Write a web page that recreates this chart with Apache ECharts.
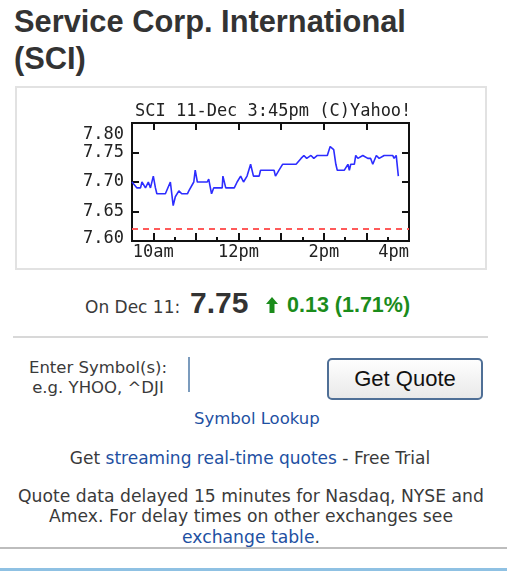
<!DOCTYPE html>
<html>
<head>
<meta charset="utf-8">
<title>Service Corp. International (SCI)</title>
<script src="https://cdn.jsdelivr.net/npm/echarts@6/dist/echarts.min.js"></script>
<style>
body { margin:0; width:507px; height:571px; background:#fff; position:relative; overflow:hidden;
       font-family:"DejaVu Sans", sans-serif; color:#3a3a3a; }
.abs { position:absolute; white-space:nowrap; }
a { color:#1e50a2; text-decoration:none; }
h1 { position:absolute; left:14px; top:3px; margin:0; font:bold 30.8px/37px "Liberation Sans", Arial, sans-serif; color:#333; }
#chart { position:absolute; left:15px; top:86px; width:468px; height:180px; border:2px solid #e2e2e2; }
.big { font:bold 30px/30px "Liberation Sans", Arial, sans-serif; color:#333; }
.chg { font:bold 21.5px/21.5px "Liberation Sans", Arial, sans-serif; color:#1b8c1b; }
.btn { position:absolute; left:327px; top:358px; width:156px; height:42px; box-sizing:border-box;
       border:2px solid #4f6f96; border-radius:5px; background:linear-gradient(#fefefe,#e9e9e9);
       font:22px/38px "Liberation Sans", Arial, sans-serif; color:#111; text-align:center; }
</style>
</head>
<body>
<h1>Service Corp. International<br>(SCI)</h1>
<div id="chart"></div>

<div class="abs" style="left:85px;top:299px;font-size:17px;line-height:17px;">On Dec 11:</div>
<div class="abs big" style="left:190px;top:288px;">7.75</div>
<svg class="abs" style="left:266px;top:297px;" width="12" height="16" viewBox="0 0 12 16">
  <polygon points="6,0 12,7 8.5,7 8.5,16 3.5,16 3.5,7 0,7" fill="#1b8c1b"/>
</svg>
<div class="abs chg" style="left:287px;top:295px;">0.13 (1.71%)</div>

<div class="abs" style="left:13px;top:336px;width:475px;height:2px;background:#d8d8d8;"></div>

<div class="abs" style="left:0;top:358px;width:196px;text-align:center;font-size:16.5px;line-height:20px;">Enter Symbol(s):<br>e.g. YHOO, ^DJI</div>
<div class="abs" style="left:188px;top:357px;width:1.5px;height:35px;background:#7b9bbd;"></div>
<div class="btn">Get Quote</div>

<div class="abs" style="left:194px;top:409px;font-size:16.5px;line-height:20px;"><a>Symbol Lookup</a></div>
<div class="abs" style="left:0;top:448px;width:500px;text-align:center;font-size:17px;line-height:20px;">Get <a>streaming real-time quotes</a> - Free Trial</div>
<div class="abs" style="left:0;top:486px;width:502px;text-align:center;font-size:17.2px;line-height:20.3px;">Quote data delayed 15 minutes for Nasdaq, NYSE and<br>Amex. For delay times on other exchanges see<br><a>exchange table</a>.</div>

<div class="abs" style="left:0;top:547px;width:507px;height:1.5px;background:#bdbdbd;"></div>
<div class="abs" style="left:0;top:568px;width:507px;height:3px;background:#8fc1e3;"></div>

<script>
// intraday quotes
const times = ['9:30','9:31','9:37','9:42','9:44','9:49','9:53','9:56','10:00','10:03',
  '10:05','10:17','10:24','10:28','10:31','10:36','10:40','10:48','10:50','10:57',
  '10:59','11:02','11:06','11:16','11:18','11:22','11:25','11:32','11:37','11:38',
  '11:42','11:44','11:54','11:58','12:03','12:07','12:12','12:17','12:21','12:24',
  '12:29','12:31','12:50','12:52','12:57','13:02','13:21','13:28','13:32','13:36',
  '13:42','13:46','13:51','14:05','14:09','14:14','14:17','14:19','14:29','14:34',
  '14:36','14:38','14:43','14:45','14:48','14:55','15:02','15:06','15:09','15:14',
  '15:18','15:25','15:37','15:39','15:42','15:45'];
const prices = [7.70,7.70,7.69,7.69,7.70,7.69,7.70,7.69,7.71,7.69,
  7.68,7.68,7.70,7.66,7.675,7.685,7.68,7.68,7.685,7.70,
  7.72,7.70,7.70,7.70,7.705,7.68,7.69,7.69,7.69,7.71,
  7.69,7.69,7.69,7.70,7.71,7.70,7.71,7.73,7.71,7.71,
  7.71,7.72,7.72,7.71,7.72,7.73,7.73,7.74,7.745,7.74,
  7.745,7.74,7.745,7.745,7.76,7.755,7.73,7.72,7.72,7.73,
  7.72,7.73,7.73,7.745,7.74,7.745,7.74,7.74,7.73,7.745,
  7.74,7.745,7.745,7.74,7.745,7.71];
const prevClose = 7.62;

const chartTitle = 'SCI 11-Dec 3:45pm (C)Yahoo!';
const sessionStart = '9:30', sessionEnd = '16:00';
const hourTicks = ['10:00','11:00','12:00','13:00','14:00','15:00','16:00'];
const halfHourTicks = ['10:30','11:30','12:30','13:30','14:30','15:30'];
const labelTimes = ['10:00','12:00','14:00','16:00'];
const labelText = ['10am','12pm','2pm','4pm'];
const yMin = 7.60, yMax = 7.80, yStep = 0.05;

function toMin(t){
  let p = t.split(':');
  return (+p[0]) * 60 + (+p[1]);
}

const mono = 'DejaVu Sans Mono';
const ink = '#111';

let chart = echarts.init(document.getElementById('chart'));
let xBase = {
  type: 'value', min: toMin(sessionStart), max: toMin(sessionEnd),
  axisLine: {show: false}, splitLine: {show: false}
};
let option = {
  animation: false,
  title: {
    text: chartTitle, left: 118, top: 15, padding: 0,
    textStyle: {fontFamily: mono, fontSize: 17, fontWeight: 'normal', color: '#222'}
  },
  grid: {left: 115, top: 35, width: 277, height: 118, show: true, borderColor: ink, borderWidth: 2},
  xAxis: [
    Object.assign({}, xBase, {
      position: 'bottom',
      axisTick: {inside: true, length: 4, customValues: halfHourTicks.map(toMin), lineStyle: {color: ink, width: 2}},
      axisLabel: {
        customValues: labelTimes.map(toMin), margin: 3, alignMaxLabel: 'right',
        fontFamily: mono, fontSize: 17, color: '#222',
        formatter: function(v){ return labelText[labelTimes.map(toMin).indexOf(v)] || ''; }
      }
    }),
    Object.assign({}, xBase, {
      position: 'bottom',
      axisTick: {inside: true, length: 8, customValues: hourTicks.map(toMin), lineStyle: {color: ink, width: 2}},
      axisLabel: {show: false}
    }),
    Object.assign({}, xBase, {
      position: 'top',
      axisTick: {inside: true, length: 7, customValues: hourTicks.map(toMin), lineStyle: {color: ink, width: 2}},
      axisLabel: {show: false}
    })
  ],
  yAxis: [
    {
      type: 'value', min: yMin, max: yMax, interval: yStep, position: 'left',
      axisLine: {show: false}, splitLine: {show: false},
      axisTick: {inside: true, length: 7, lineStyle: {color: ink, width: 2}},
      axisLabel: {
        margin: 8, fontFamily: mono, fontSize: 17, color: '#222',
        formatter: function(v){
          let s = v.toFixed(2);
          if (Math.abs(v - yMax) < 1e-6) return '{hi|' + s + '}';
          if (Math.abs(v - yMin) < 1e-6) return '{lo|' + s + '}';
          return s;
        },
        rich: {
          hi: {fontFamily: mono, fontSize: 17, color: '#222', padding: [24, 0, 0, 0]},
          lo: {fontFamily: mono, fontSize: 17, color: '#222', padding: [0, 0, 5, 0]}
        }
      }
    },
    {
      type: 'value', min: yMin, max: yMax, interval: yStep, position: 'right',
      axisLine: {show: false}, splitLine: {show: false},
      axisTick: {inside: true, length: 7, lineStyle: {color: ink, width: 2}},
      axisLabel: {show: false}
    }
  ],
  series: [
    {
      type: 'line',
      xAxisIndex: 0, yAxisIndex: 0,
      data: times.map(function(t, i){ return [toMin(t), prices[i]]; }),
      showSymbol: false,
      lineStyle: {color: '#2d2dff', width: 1.6},
      markLine: {
        silent: true, symbol: 'none', label: {show: false},
        lineStyle: {color: '#ff5a5a', type: [6, 5], width: 2},
        data: [{yAxis: prevClose}]
      }
    }
  ]
};
chart.setOption(option);
</script>
</body>
</html>
